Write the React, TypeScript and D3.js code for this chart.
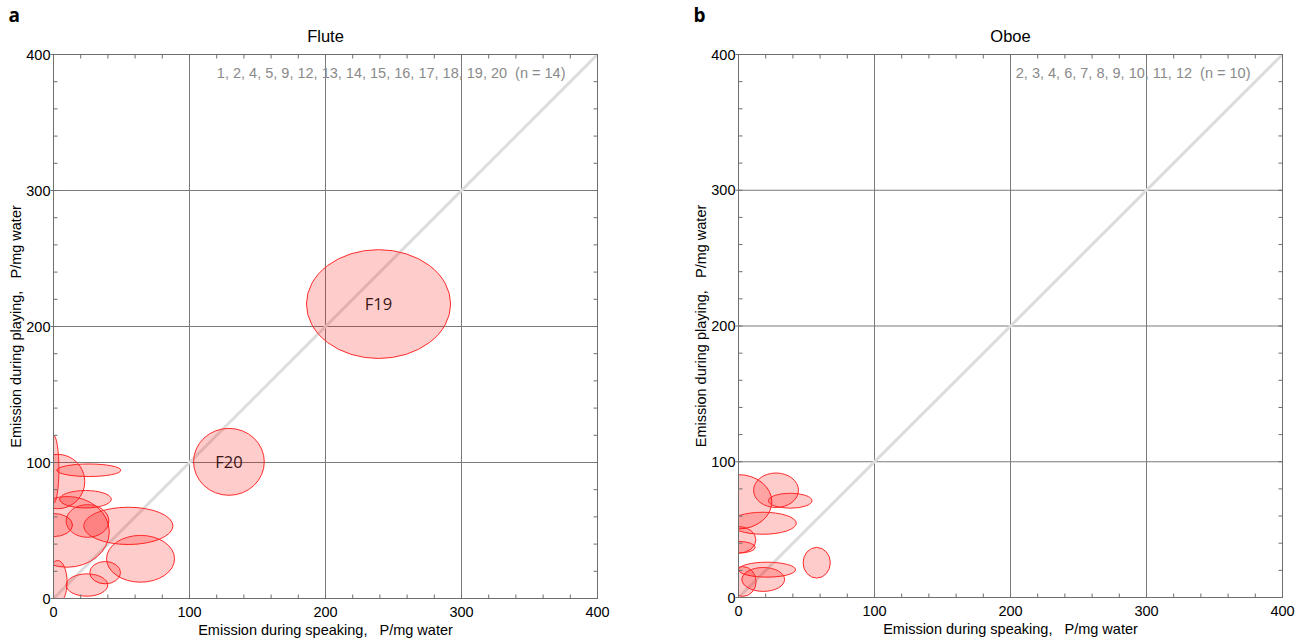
import React from "react";
import * as d3 from "d3";

// ---- Data ----
// Flute: speaking mean ± sd (x), playing mean ± sd (y)
const fluteLabels = ["F19", "F20", "", "", "", "", "", "", "", "", "", "", "", ""];
const fluteSpeakMean = [239, 129, 26, 3, 0, 23.5, 10, 0, 25, 55, 64, 38, 24.6, 3];
const fluteSpeakSD = [53, 26, 23.5, 20, 4, 19, 31, 14, 15.7, 32.8, 25, 11.3, 15.3, 7];
const flutePlayMean = [216.5, 100.5, 94.3, 86, 95, 73, 49, 54, 57, 53.4, 29.2, 19, 9.9, 12];
const flutePlaySD = [40, 24.6, 4.6, 20, 25, 6.4, 26, 8.5, 12, 13.7, 17.2, 8.2, 8.2, 16];

// Oboe
const oboeLabels = ["", "", "", "", "", "", "", "", "", ""];
const oboeSpeakMean = [0, 27.6, 38, 18, 0, 0, 57.5, 21, 18.2, 3];
const oboeSpeakSD = [24.5, 16.5, 16, 24.5, 12.8, 12.3, 10, 21, 15.7, 10];
const oboePlayMean = [70.5, 79, 71.3, 54.7, 42.5, 37, 25.6, 20.5, 13.3, 11.8];
const oboePlaySD = [20, 12.7, 5.5, 8.1, 9.8, 4.3, 11.3, 5.5, 8.8, 11];

const axisTicks = [0, 100, 200, 300, 400];
const minorTicks = d3.range(0, 401, 20);
const gridValues = [100, 200, 300];

const fluteNote = "1, 2, 4, 5, 9, 12, 13, 14, 15, 16, 17, 18, 19, 20  (n = 14)";
const oboeNote = "2, 3, 4, 6, 7, 8, 9, 10, 11, 12  (n = 10)";

const FONT = "'Liberation Sans', Arial, sans-serif";

type PanelProps = {
  id: string;
  letter: string;
  title: string;
  note: string;
  left: number;
  top: number;
  bottom: number;
  size: number;
  labels: string[];
  sx: number[];
  ssd: number[];
  py: number[];
  psd: number[];
};

function Panel(p: PanelProps) {
  const x = d3.scaleLinear().domain([0, 400]).range([p.left, p.left + p.size]);
  const y = d3.scaleLinear().domain([0, 400]).range([p.bottom, p.top]);
  const w = p.size;
  const h = p.bottom - p.top;
  const cx = p.left + w / 2;
  const cy = p.top + h / 2;
  const axisColor = "#6e6e6e";
  return (
    <g>
      <defs>
        <clipPath id={p.id}>
          <rect x={p.left} y={p.top} width={w} height={h} />
        </clipPath>
      </defs>
      <text x={p.left - 45} y={22} fontFamily="'Open Sans', sans-serif" fontWeight="bold" fontSize={19} fill="#000">
        {p.letter}
      </text>
      <text x={cx} y={42} textAnchor="middle" fontFamily={FONT} fontSize={16.5} fill="#000">
        {p.title}
      </text>
      {/* grid */}
      {gridValues.map((v) => (
        <g key={"g" + v}>
          <line x1={x(v)} x2={x(v)} y1={p.top} y2={p.bottom} stroke="#7a7a7a" strokeWidth={1} />
          <line x1={p.left} x2={p.left + w} y1={y(v)} y2={y(v)} stroke="#7a7a7a" strokeWidth={1} />
        </g>
      ))}
      {/* diagonal */}
      <line x1={x(0)} y1={y(0)} x2={x(400)} y2={y(400)} stroke="#dcdcdc" strokeWidth={3} clipPath={`url(#${p.id})`} />
      {/* ellipses */}
      <g clipPath={`url(#${p.id})`}>
        {p.sx.map((m, i) => (
          <ellipse
            key={"e" + i}
            cx={x(m)}
            cy={y(p.py[i])}
            rx={x(p.ssd[i]) - x(0)}
            ry={y(0) - y(p.psd[i])}
            fill="rgba(255,0,0,0.2)"
            stroke="#ff2a2a"
            strokeWidth={1}
          />
        ))}
      </g>
      {p.labels.map((l, i) =>
        l ? (
          <text
            key={"l" + i}
            x={x(p.sx[i])}
            y={y(p.py[i]) + 6}
            textAnchor="middle"
            fontFamily="'Open Sans', sans-serif"
            fontSize={16.5}
            fill="#3a1515"
          >
            {l}
          </text>
        ) : null
      )}
      {/* frame */}
      <rect x={p.left} y={p.top} width={w} height={h} fill="none" stroke={axisColor} strokeWidth={1} />
      {/* minor ticks (inside) */}
      {minorTicks.map((v) => (
        <g key={"m" + v} stroke={axisColor} strokeWidth={1}>
          <line x1={x(v)} x2={x(v)} y1={p.bottom} y2={p.bottom - 4} />
          <line x1={x(v)} x2={x(v)} y1={p.top} y2={p.top + 4} />
          <line x1={p.left} x2={p.left + 4} y1={y(v)} y2={y(v)} />
          <line x1={p.left + w} x2={p.left + w - 4} y1={y(v)} y2={y(v)} />
        </g>
      ))}
      {/* major ticks + labels */}
      {axisTicks.map((v) => (
        <g key={"t" + v}>
          <line x1={p.left - 3} x2={p.left} y1={y(v)} y2={y(v)} stroke={axisColor} />
          <text x={p.left - 3} y={y(v) + 5} textAnchor="end" fontFamily={FONT} fontSize={14.5} fill="#000">
            {v}
          </text>
          <text x={x(v)} y={p.bottom + 18} textAnchor="middle" fontFamily={FONT} fontSize={14.5} fill="#000">
            {v}
          </text>
        </g>
      ))}
      <text
        x={x(400) - 32}
        y={p.top + 23}
        textAnchor="end"
        fontFamily={FONT}
        fontSize={14.5}
        fill="#8a8a8a"
        style={{ whiteSpace: "pre" }}
      >
        {p.note}
      </text>
      <text x={cx} y={p.bottom + 36} textAnchor="middle" fontFamily={FONT} fontSize={14.5} fill="#000" style={{ whiteSpace: "pre" }}>
        {"Emission during speaking,   P/mg water"}
      </text>
      <text
        transform={`translate(${p.left - 33},${cy}) rotate(-90)`}
        textAnchor="middle"
        fontFamily={FONT}
        fontSize={14.5}
        fill="#000"
        style={{ whiteSpace: "pre" }}
      >
        {"Emission during playing,   P/mg water"}
      </text>
    </g>
  );
}

export default function App() {
  return (
    <svg
      width={1309}
      height={642}
      style={{ position: "absolute", left: 0, top: 0, background: "#fff" }}
      xmlns="http://www.w3.org/2000/svg"
    >
      <rect width={1309} height={642} fill="#fff" />
      <Panel
        id="clipA"
        letter="a"
        title="Flute"
        note={fluteNote}
        left={53.5}
        top={54.5}
        bottom={598.5}
        size={544}
        labels={fluteLabels}
        sx={fluteSpeakMean}
        ssd={fluteSpeakSD}
        py={flutePlayMean}
        psd={flutePlaySD}
      />
      <Panel
        id="clipB"
        letter="b"
        title="Oboe"
        note={oboeNote}
        left={738.5}
        top={54.5}
        bottom={597.5}
        size={544}
        labels={oboeLabels}
        sx={oboeSpeakMean}
        ssd={oboeSpeakSD}
        py={oboePlayMean}
        psd={oboePlaySD}
      />
    </svg>
  );
}
